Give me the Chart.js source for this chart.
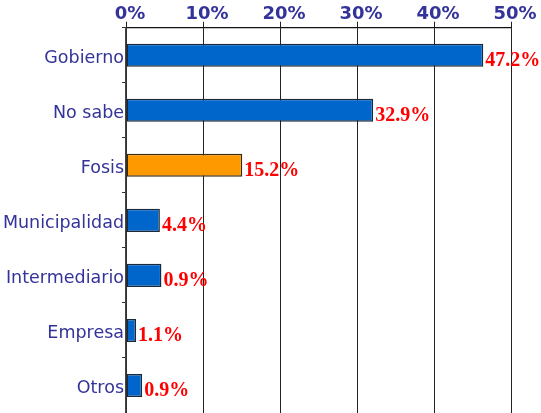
<!DOCTYPE html>
<html>
<head>
<meta charset="utf-8">
<script src="https://cdn.jsdelivr.net/npm/chart.js@4.4.1/dist/chart.umd.min.js"></script>
<style>
html,body{margin:0;padding:0;background:#fff;}
#wrap{width:541px;height:413px;overflow:hidden;}
</style>
</head>
<body>
<div id="wrap"><canvas id="c" width="541" height="413"></canvas></div>
<script>
const categories = ["Gobierno", "No sabe", "Fosis", "Municipalidad", "Intermediario", "Empresa", "Otros"];
const barValues = [46.4, 32.1, 15.1, 4.4, 4.6, 1.3, 2.1];
const valueLabels = ["47.2%", "32.9%", "15.2%", "4.4%", "0.9%", "1.1%", "0.9%"];
const xTicks = [0, 10, 20, 30, 40, 50];
const highlightCategory = "Fosis";

const barFill = categories.map(c => c === highlightCategory ? "#FF9900" : "#0066CC");
const barBorder = categories.map(c => c === highlightCategory ? "#3a2a10" : "#1a2a3a");

const valueLabelPlugin = {
  id: "valueLabels",
  afterDatasetsDraw(chart) {
    const ctx = chart.ctx;
    const meta = chart.getDatasetMeta(0);
    ctx.save();
    ctx.font = "bold 20px 'Liberation Serif', 'Times New Roman', serif";
    ctx.fillStyle = "#FF0000";
    ctx.textAlign = "left";
    ctx.textBaseline = "alphabetic";
    meta.data.forEach((bar, i) => {
      ctx.fillText(valueLabels[i], bar.x + 2, bar.y + 11);
    });
    ctx.restore();
  }
};

new Chart(document.getElementById("c"), {
  type: "bar",
  data: {
    labels: categories,
    datasets: [{
      data: barValues,
      backgroundColor: barFill,
      borderColor: barBorder,
      borderWidth: 1.5,
      borderSkipped: false,
      barPercentage: 0.42,
      categoryPercentage: 1.0
    }]
  },
  options: {
    indexAxis: "y",
    responsive: false,
    animation: false,
    devicePixelRatio: 1,
    layout: { padding: { left: 0, right: 30, top: 0, bottom: -1 } },
    plugins: { legend: { display: false }, tooltip: { enabled: false } },
    scales: {
      x: {
        position: "top",
        min: 0,
        max: 50,
        afterBuildTicks(scale) { scale.ticks = xTicks.map(v => ({ value: v })); },
        afterFit(scale) { scale.height = 27.7; scale.paddingLeft = 0; scale.paddingRight = 0; },
        ticks: {
          color: "#333399",
          font: { family: "'DejaVu Sans', Verdana, sans-serif", size: 18, weight: "bold" },
          padding: -3,
          labelOffset: 4,
          maxRotation: 0,
          callback: v => v + "%"
        },
        grid: { color: "#222222", lineWidth: 1, tickLength: 6, drawTicks: true },
        border: { color: "#111111", width: 1.2 }
      },
      y: {
        afterFit(scale) { scale.width = 126; scale.paddingTop = 0; scale.paddingBottom = 0; },
        ticks: {
          color: "#333399",
          font: { family: "'DejaVu Sans', Verdana, sans-serif", size: 17.5 },
          padding: -2,
          labelOffset: 3
        },
        grid: { drawOnChartArea: false, drawTicks: true, tickLength: 4, color: "#333333", offset: true },
        border: { color: "#444444", width: 1.5 }
      }
    }
  },
  plugins: [valueLabelPlugin]
});
</script>
</body>
</html>
